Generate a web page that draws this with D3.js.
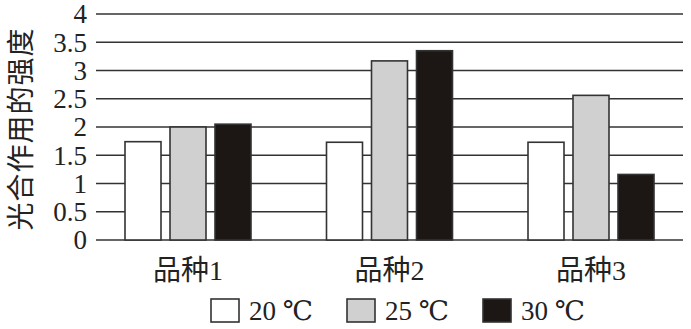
<!DOCTYPE html>
<html lang="zh">
<head>
<meta charset="UTF-8" />
<title>光合作用的强度</title>
<script src="https://cdn.jsdelivr.net/npm/d3@7/dist/d3.min.js"></script>
<style>
  body { margin: 0; background: #fff; }
  svg text { font-family: "Liberation Serif", "DejaVu Serif", "Noto Sans CJK SC", serif; fill: #222; }
  .grid line { stroke: #333; stroke-width: 1.6; }
  .bar { stroke: #333; stroke-width: 1.6; }
</style>
</head>
<body>
<script>
// data
var varieties = ["品种1", "品种2", "品种3"];
var temps = ["20 ℃", "25 ℃", "30 ℃"];
var temp20 = [1.74, 1.73, 1.73];
var temp25 = [2.0, 3.17, 2.56];
var temp30 = [2.05, 3.35, 1.16];
var yTicks = [0, 0.5, 1, 1.5, 2, 2.5, 3, 3.5, 4];
var fills = ["#ffffff", "#d0d0d0", "#1c1614"];

var series = [temp20, temp25, temp30];

var w = 691, h = 329;

var svg = d3.select("body").append("svg")
    .attr("width", w)
    .attr("height", h);

var yScale = d3.scaleLinear()
    .domain([0, 4])
    .range([240, 14]);

// group centres
var x0 = d3.scalePoint()
    .domain(varieties)
    .range([188, 591]);

// bars inside a group
var x1 = d3.scaleBand()
    .domain(temps)
    .range([-63, 63])
    .paddingInner(0.2);

// horizontal grid lines
svg.append("g")
   .attr("class", "grid")
   .selectAll("line")
   .data(yTicks)
   .enter().append("line")
   .attr("x1", 96)
   .attr("x2", 683)
   .attr("y1", function(d) { return yScale(d); })
   .attr("y2", function(d) { return yScale(d); });

// y tick labels
svg.append("g")
   .selectAll("text")
   .data(yTicks)
   .enter().append("text")
   .attr("x", 87)
   .attr("y", function(d) { return yScale(d); })
   .attr("dy", "0.35em")
   .attr("text-anchor", "end")
   .style("font-size", "27px")
   .text(function(d) { return d; });

// y axis title
svg.append("text")
   .attr("transform", "translate(21,129) rotate(-90)")
   .attr("text-anchor", "middle")
   .attr("dy", "0.36em")
   .style("font-family", "'Noto Sans CJK SC'")
   .style("font-size", "28px")
   .style("letter-spacing", "1px")
   .text("光合作用的强度");

// bars
var groups = svg.append("g")
   .selectAll("g")
   .data(varieties)
   .enter().append("g")
   .attr("transform", function(d) { return "translate(" + x0(d) + ",0)"; });

groups.selectAll("rect")
   .data(function(d, i) {
     return temps.map(function(t, j) { return { t: t, j: j, v: series[j][i] }; });
   })
   .enter().append("rect")
   .attr("class", "bar")
   .attr("x", function(d) { return x1(d.t); })
   .attr("width", x1.bandwidth())
   .attr("y", function(d) { return yScale(d.v); })
   .attr("height", function(d) { return yScale(0) - yScale(d.v); })
   .attr("fill", function(d) { return fills[d.j]; });

// category labels
svg.append("g")
   .selectAll("text")
   .data(varieties)
   .enter().append("text")
   .attr("x", function(d) { return x0(d); })
   .attr("y", 280)
   .attr("text-anchor", "middle")
   .style("font-size", "28px")
   .text(function(d) { return d; });

// legend
var legendX = d3.scalePoint()
    .domain(temps)
    .range([211, 483]);

var legend = svg.append("g")
   .selectAll("g")
   .data(temps)
   .enter().append("g")
   .attr("transform", function(d) { return "translate(" + legendX(d) + ",299)"; });

legend.append("rect")
   .attr("class", "bar")
   .attr("width", 28)
   .attr("height", 23)
   .attr("fill", function(d, i) { return fills[i]; });

legend.append("text")
   .attr("x", 38)
   .attr("y", 21)
   .style("font-size", "27px")
   .text(function(d) { return d; });
</script>
</body>
</html>
